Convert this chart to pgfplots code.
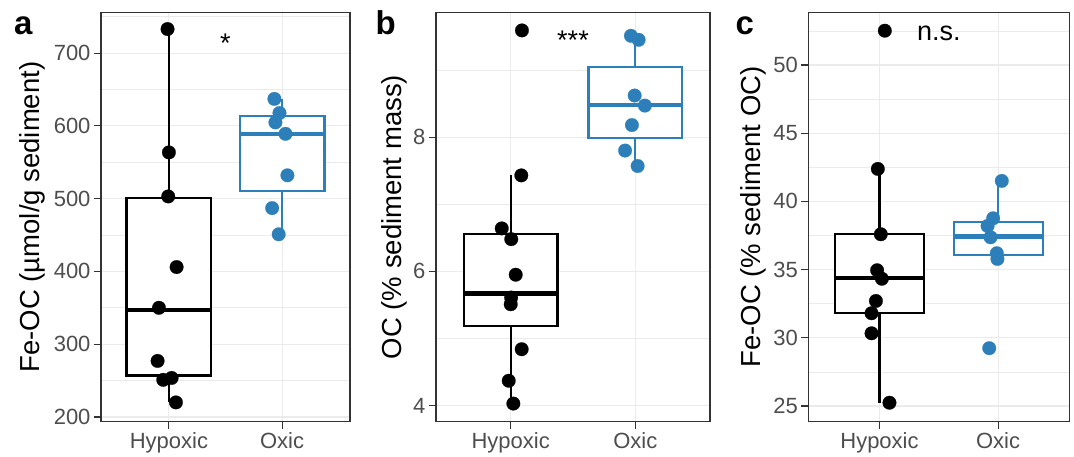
\documentclass[border=0pt]{standalone}
\usepackage{fontspec}
\setmainfont{Liberation Sans}
\usepackage{pgfplots}
\pgfplotsset{compat=1.18}
\usepgfplotslibrary{statistics}

\definecolor{oxblue}{HTML}{2C7FB8}
\definecolor{gridgray}{HTML}{EBEBEB}
\definecolor{framegray}{HTML}{333333}
\definecolor{tickgray}{HTML}{4D4D4D}

\pgfplotsset{
  panel/.style={
    scale only axis, anchor=south west, height=409.4bp,
    xmin=0.4, xmax=2.6,
    xtick={1,2}, xticklabels={Hypoxic,Oxic},
    tick align=outside, xtick pos=bottom, ytick pos=left,
    major tick length=7bp, minor tick length=0pt,
    every tick/.style={framegray, line width=1.1bp},
    axis line style={framegray, line width=1.1bp},
    xmajorgrids, ymajorgrids, yminorgrids,
    major grid style={gridgray, line width=1.1bp},
    minor grid style={gridgray, line width=0.6bp},
    tick label style={font=\fontsize{22bp}{26bp}\selectfont, text=tickgray},
    /pgf/number format/assume math mode=true,
    label style={font=\fontsize{27.5bp}{32bp}\selectfont},
    boxplot/draw direction=y, boxplot/box extend=0.75, boxplot/whisker extend=0,
    boxplot/every median/.style={line width=4.2bp},
  },
  hyp/.style={draw=black, line width=2.2bp, fill=white},
  oxi/.style={draw=oxblue, line width=2.2bp, fill=white},
  hyppts/.style={only marks, color=black, mark=*, mark size=6.8bp,
    mark options={fill=black, draw=black, line width=0.2bp}},
  oxipts/.style={only marks, color=oxblue, mark=*, mark size=6.8bp,
    mark options={fill=oxblue, draw=oxblue, line width=0.2bp}},
}

\begin{document}
\begin{tikzpicture}
\path[use as bounding box] (0,0) rectangle (1074bp,457bp);

% panel a
\begin{axis}[panel, at={(101bp,35.3bp)}, width=249bp,
  ymin=193.5, ymax=756,
  ytick={200,300,...,700}, minor ytick={250,350,...,750},
  ylabel={Fe-OC (µmol/g sediment)},
  ylabel style={at={(axis description cs:-0.245,0.5)}, anchor=base}]
\addplot[hyp, boxplot prepared={draw position=1, lower whisker=220,
  lower quartile=257, median=347, upper quartile=501, upper whisker=733}] coordinates {};
\addplot[oxi, boxplot prepared={draw position=2, lower whisker=451,
  lower quartile=511, median=589, upper quartile=613, upper whisker=637}] coordinates {};
\addplot[hyppts] coordinates {
  (0.988,733) (1.000,563.5) (0.994,503) (1.068,406) (0.912,350)
  (0.900,277) (0.950,251) (1.024,253.6) (1.062,220)
};
\addplot[oxipts] coordinates {
  (1.932,637) (1.977,617.6) (1.941,604.7) (2.030,589) (2.047,532)
  (1.912,487) (1.970,451)
};
\node[anchor=base, font=\fontsize{27bp}{30bp}\selectfont] at (axis cs:1.5,700.4) {*};
\end{axis}

% panel b
\begin{axis}[panel, at={(436bp,35.3bp)}, width=274bp,
  ymin=3.76, ymax=9.86,
  ytick={4,6,8}, minor ytick={5,7,9},
  ylabel={OC (\% sediment mass)},
  ylabel style={at={(axis description cs:-0.125,0.5)}, anchor=base}]
\addplot[hyp, boxplot prepared={draw position=1, lower whisker=4.03,
  lower quartile=5.18, median=5.67, upper quartile=6.555, upper whisker=7.43}] coordinates {};
\addplot[oxi, boxplot prepared={draw position=2, lower whisker=7.57,
  lower quartile=7.99, median=8.48, upper quartile=9.04, upper whisker=9.51}] coordinates {};
\addplot[hyppts] coordinates {
  (1.090,9.59) (1.085,7.43) (0.928,6.64) (1.004,6.48) (1.040,5.95)
  (1.003,5.61) (1.000,5.51) (1.088,4.84) (0.984,4.37) (1.021,4.03)
};
\addplot[oxipts] coordinates {
  (1.965,9.51) (2.027,9.45) (1.995,8.62) (2.077,8.47) (1.973,8.18)
  (1.918,7.80) (2.019,7.57)
};
\node[anchor=base, font=\fontsize{27bp}{30bp}\selectfont] at (axis cs:1.5,9.30) {***};
\end{axis}

% panel c
\begin{axis}[panel, at={(808.3bp,35.3bp)}, width=261bp,
  ymin=23.85, ymax=53.86,
  ytick={25,30,...,50}, minor ytick={27.5,32.5,...,52.5},
  ylabel={Fe-OC (\% sediment OC)},
  ylabel style={at={(axis description cs:-0.185,0.5)}, anchor=base}]
\addplot[hyp, boxplot prepared={draw position=1, lower whisker=25.24,
  lower quartile=31.8, median=34.4, upper quartile=37.59, upper whisker=42.4}] coordinates {};
\addplot[oxi, boxplot prepared={draw position=2, lower whisker=35.78,
  lower quartile=36.07, median=37.42, upper quartile=38.51, upper whisker=41.5}] coordinates {};
\addplot[hyppts] coordinates {
  (1.045,52.51) (0.986,42.38) (1.011,37.59) (0.980,34.95) (1.020,34.33)
  (0.970,32.70) (0.933,31.80) (0.933,30.33) (1.084,25.24)
};
\addplot[oxipts] coordinates {
  (2.031,41.5) (1.958,38.76) (1.911,38.2) (1.936,37.37) (1.989,36.2)
  (1.994,35.78) (1.925,29.24)
};
\node[anchor=base, font=\fontsize{27bp}{30bp}\selectfont] at (axis cs:1.5,51.78) {n.s.};
\end{axis}

% panel letters
\node[anchor=base west, inner sep=0pt, font=\bfseries\fontsize{33bp}{36bp}\selectfont] at (14bp,422bp) {a};
\node[anchor=base west, inner sep=0pt, font=\bfseries\fontsize{33bp}{36bp}\selectfont] at (375.5bp,422bp) {b};
\node[anchor=base west, inner sep=0pt, font=\bfseries\fontsize{33bp}{36bp}\selectfont] at (735.5bp,422bp) {c};
\end{tikzpicture}
\end{document}
